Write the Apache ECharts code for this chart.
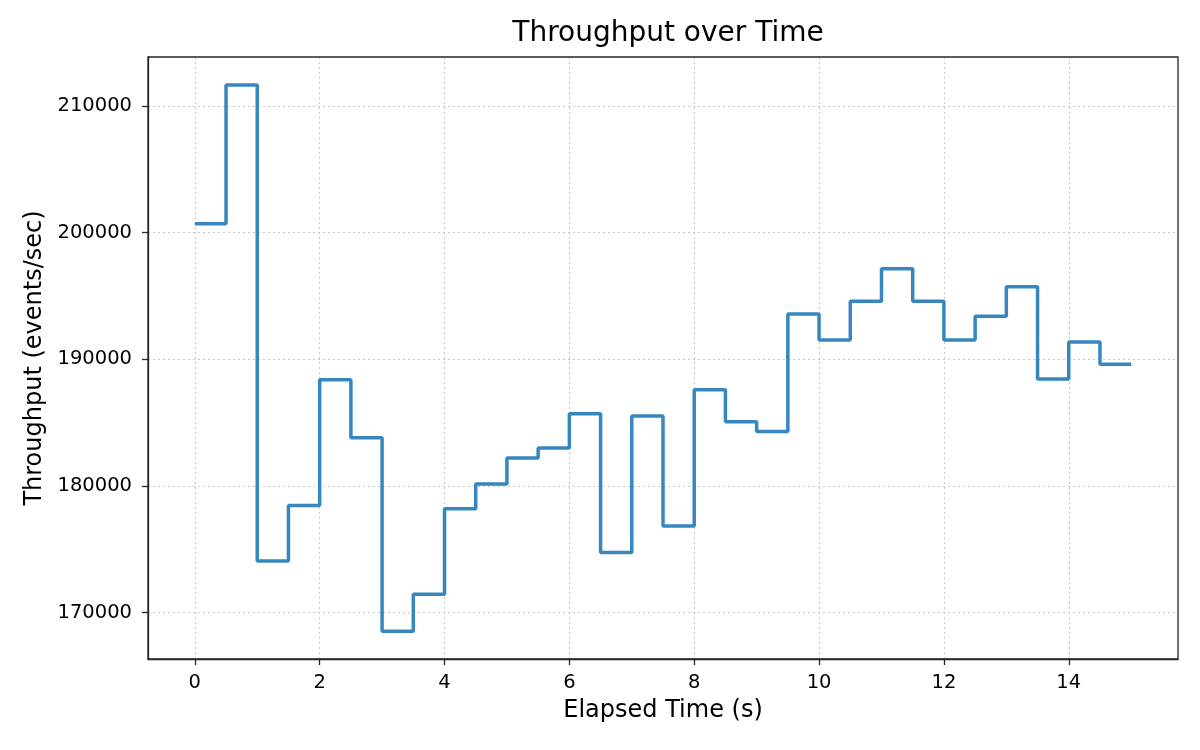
<!DOCTYPE html>
<html>
<head>
<meta charset="utf-8">
<title>Throughput over Time</title>
<script src="https://cdn.jsdelivr.net/npm/echarts@6/dist/echarts.min.js"></script>
<style>
  html, body { margin: 0; padding: 0; background: #fff; }
  #chart { width: 1200px; height: 750px; }
</style>
</head>
<body>
<div id="chart"></div>
<script>
// elapsed time (s) of each sample
const elapsedTime = [
    0, 0.5, 1, 1.5, 2, 2.5, 3, 3.5, 4, 4.5,
    5, 5.5, 6, 6.5, 7, 7.5, 8, 8.5, 9, 9.5,
    10, 10.5, 11, 11.5, 12, 12.5, 13, 13.5, 14, 14.5, 15
];
// throughput (events/sec)
const throughput = [
    200700, 211650, 174080, 178450, 188390, 183810, 168530, 171450, 178210, 180160,
    182210, 183000, 185690, 174740, 185530, 176840, 187590, 185060, 184300, 193580,
    191530, 194580, 197140, 194580, 191530, 193400, 195720, 188450, 191370, 189610, 189610
];
const xTicks = [0, 2, 4, 6, 8, 10, 12, 14];
const yTicks = [170000, 180000, 190000, 200000, 210000];

const FONT = 'DejaVu Sans';
const AXIS_COLOR = '#262626';

const chart = echarts.init(document.getElementById('chart'));

const points = elapsedTime.map((t, i) => [t, throughput[i]]);

const option = {
    backgroundColor: '#ffffff',
    animation: false,
    title: {
        text: 'Throughput over Time',
        left: 663,
        textAlign: 'center',
        top: 15,
        textStyle: { fontFamily: FONT, fontSize: 28, fontWeight: 'normal', color: '#000' }
    },
    grid: { left: 148, right: 22, top: 57, bottom: 91 },
    xAxis: {
        type: 'value',
        min: -0.75,
        max: 15.75,
        name: 'Elapsed Time (s)',
        nameLocation: 'middle',
        nameGap: 40,
        nameTextStyle: { fontFamily: FONT, fontSize: 24, color: '#000' },
        axisLine: { show: true, onZero: false, lineStyle: { color: AXIS_COLOR, width: 1.3 } },
        axisTick: { show: true, inside: false, length: 6, customValues: xTicks, lineStyle: { color: AXIS_COLOR, width: 1.3 } },
        axisLabel: { customValues: xTicks, margin: 14, fontFamily: FONT, fontSize: 19.5, color: '#000' },
        splitLine: { show: true, lineStyle: { color: '#c8c8c8', width: 1.1, type: [2, 3] } }
    },
    yAxis: {
        type: 'value',
        min: 166340,
        max: 213860,
        name: 'Throughput (events/sec)',
        nameLocation: 'middle',
        nameGap: 100,
        nameTextStyle: { fontFamily: FONT, fontSize: 24, color: '#000' },
        axisLine: { show: true, onZero: false, lineStyle: { color: AXIS_COLOR, width: 1.3 } },
        axisTick: { show: true, inside: false, length: 6, customValues: yTicks, lineStyle: { color: AXIS_COLOR, width: 1.3 } },
        axisLabel: {
            customValues: yTicks,
            margin: 16,
            fontFamily: FONT,
            fontSize: 19.5,
            color: '#000',
            formatter: v => String(v)
        },
        splitLine: { show: true, lineStyle: { color: '#c8c8c8', width: 1.1, type: [2, 3] } }
    },
    series: [
        {
            type: 'line',
            name: 'Throughput',
            step: 'end',
            data: points,
            showSymbol: false,
            lineStyle: { color: '#3787bf', width: 3.5 },
            itemStyle: { color: '#3787bf' }
        }
    ]
};

chart.setOption(option);

// frame lines on top and right like the reference box
chart.setOption({
    graphic: [
        {
            type: 'rect',
            shape: { x: 148, y: 57, width: 1030, height: 602 },
            style: { fill: 'none', stroke: AXIS_COLOR, lineWidth: 1.3 },
            silent: true,
            z: 10
        }
    ]
});
</script>
</body>
</html>
